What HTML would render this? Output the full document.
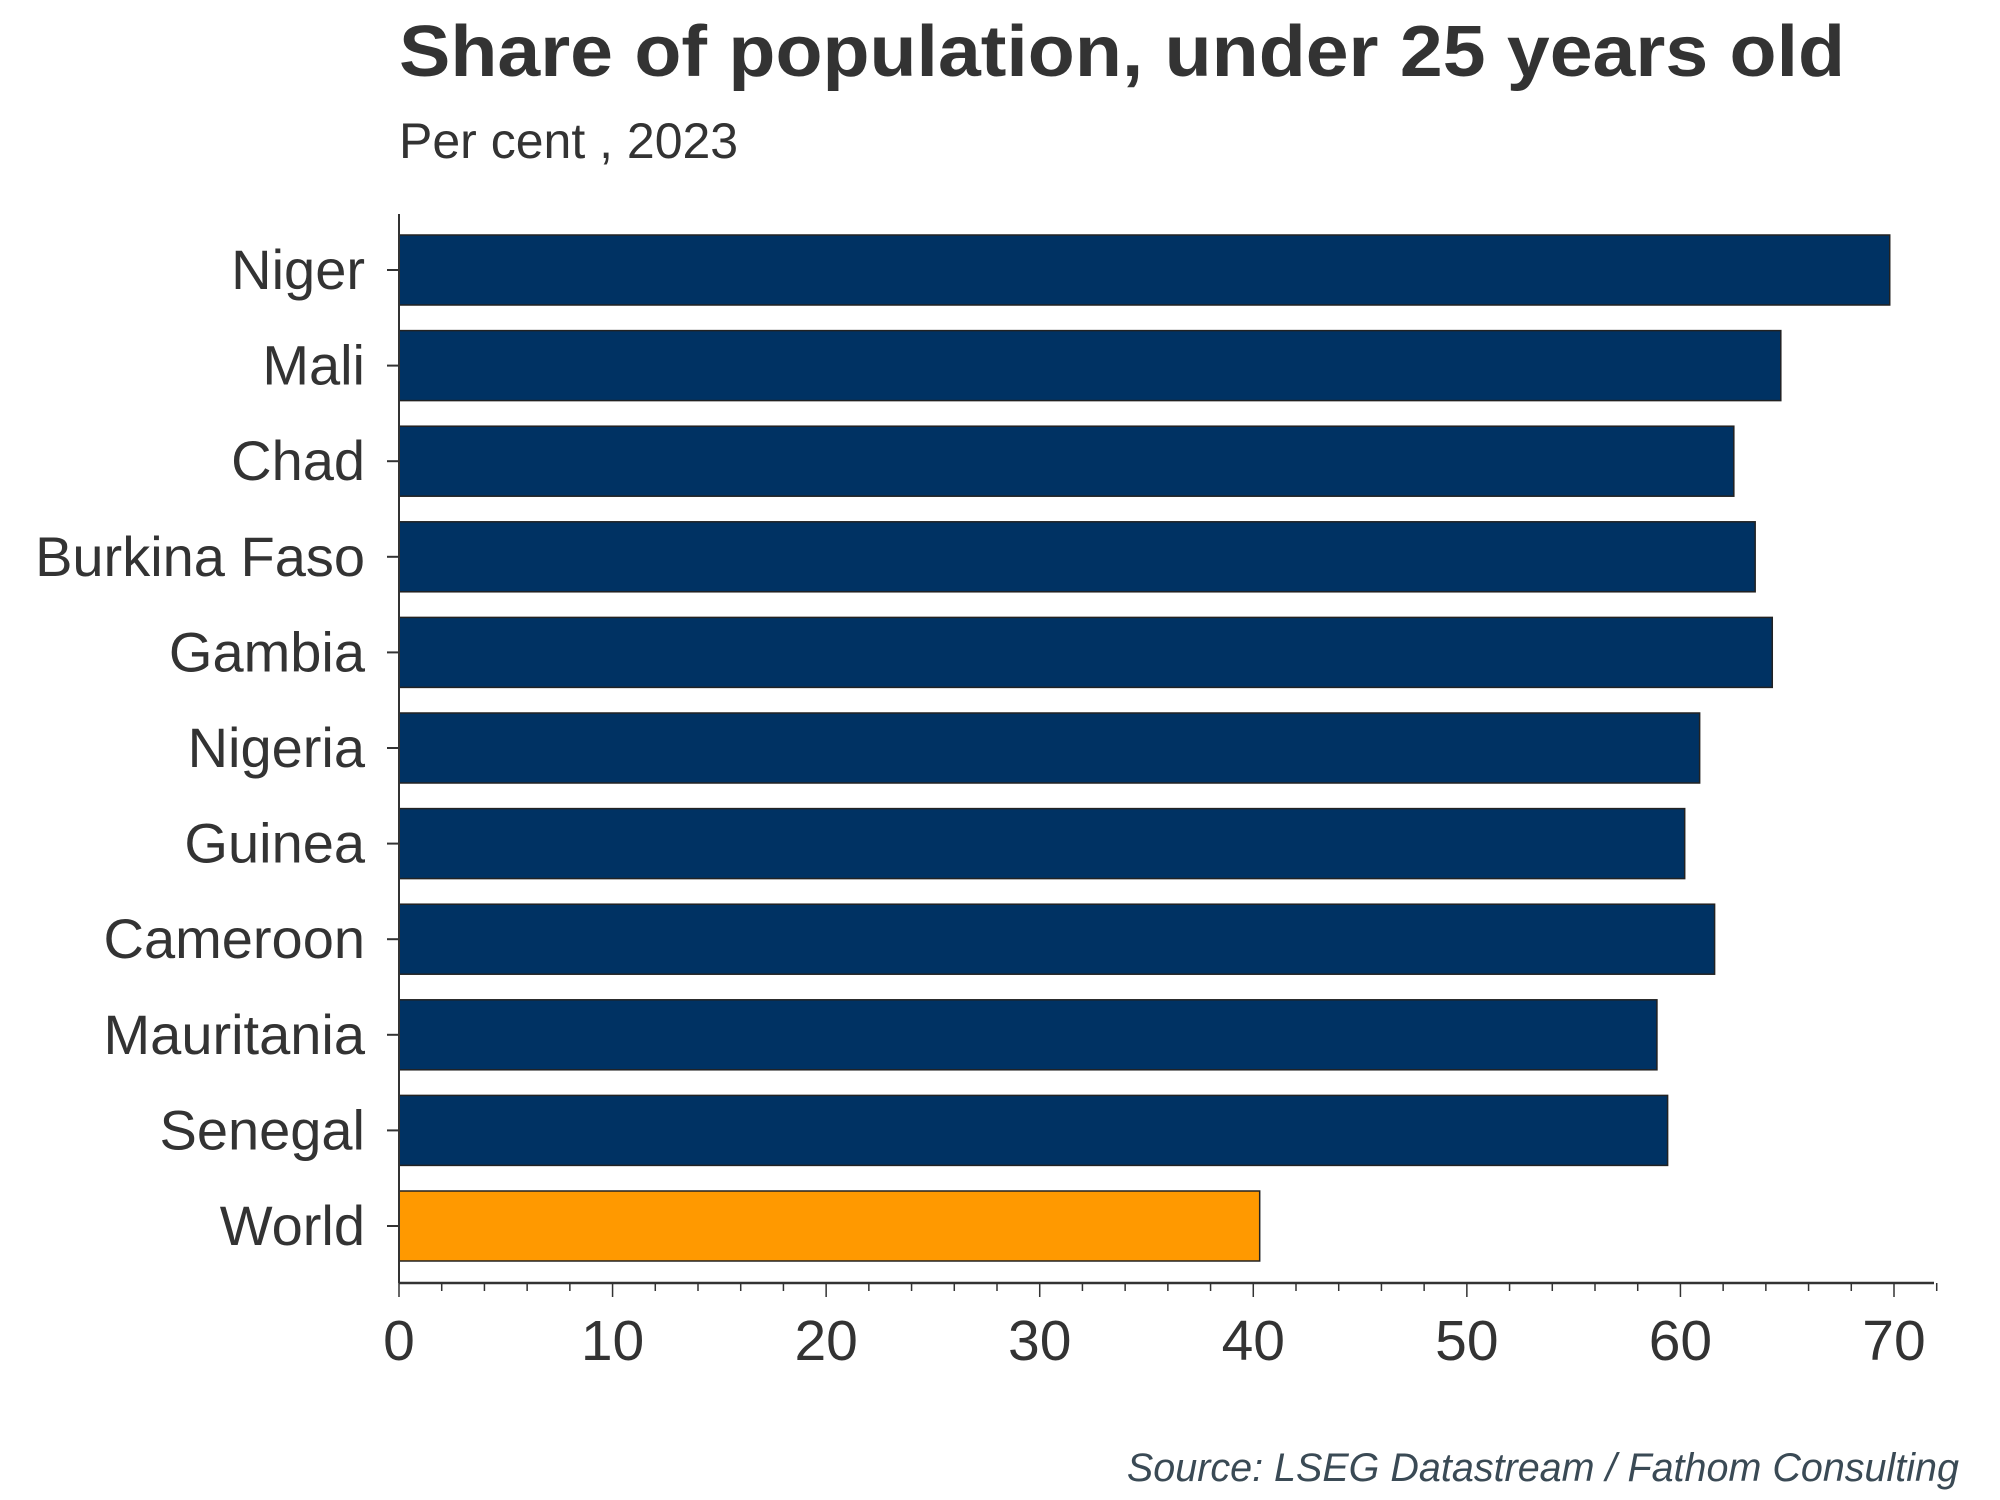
<!DOCTYPE html>
<html><head><meta charset="utf-8"><style>
html,body{margin:0;padding:0;background:#fff;}
svg{display:block;font-family:"Liberation Sans",Arial,sans-serif;}
</style></head><body>
<svg id="chart" width="2000" height="1500" viewBox="0 0 2000 1500">
<text x="399" y="76" font-size="72" font-weight="bold" fill="#333" textLength="1446" lengthAdjust="spacingAndGlyphs">Share of population, under 25 years old</text>
<text x="399" y="158" font-size="50" fill="#333">Per cent , 2023</text>
<g id="bars"></g>
<g id="axes"></g>
<text x="1959" y="1481" font-size="39.5" font-style="italic" fill="#3a4a55" text-anchor="end">Source: LSEG Datastream / Fathom Consulting</text>
</svg>
<script>
const categories = ["Niger","Mali","Chad","Burkina Faso","Gambia","Nigeria","Guinea","Cameroon","Mauritania","Senegal","World"];
const values = [69.8,64.7,62.5,63.5,64.3,60.9,60.2,61.6,58.9,59.4,40.3];
const xTicks = [0,10,20,30,40,50,60,70];
const NS="http://www.w3.org/2000/svg";
const x0=399, pxPerUnit=(1894-399)/70, top0=235, pitch=95.6, barH=70, axisY=1283;
const xs=v=>x0+v*pxPerUnit;
const ys=i=>top0+i*pitch;
const bars=document.getElementById('bars'), axes=document.getElementById('axes');
function mk(tag,attrs,parent){const e=document.createElementNS(NS,tag);for(const k in attrs)e.setAttribute(k,attrs[k]);parent.appendChild(e);return e;}
categories.forEach((c,i)=>{
  const r=mk('rect',{x:x0,y:ys(i),width:xs(values[i])-x0,height:barH,fill:c==="World"?"#ff9900":"#003263",stroke:"#222","stroke-width":1.5},bars);
  
  
  const t=mk('text',{x:365,y:ys(i)+barH/2+19,"font-size":56,fill:"#333","text-anchor":"end"},axes);
  t.textContent=c;
  
  
  mk('line',{x1:387,x2:399,y1:ys(i)+barH/2,y2:ys(i)+barH/2,stroke:"#333","stroke-width":2},axes);
});
const yl=mk('line',{x1:399,x2:399,y1:214,y2:axisY,stroke:"#333","stroke-width":2},axes);


const xl=mk('line',{x1:399,x2:1934,y1:axisY,y2:axisY,stroke:"#333","stroke-width":2.5},axes);


for(let v=0;v<=72;v+=2){
  const major=v%10===0;
  mk('line',{x1:xs(v),x2:xs(v),y1:axisY,y2:axisY+(major?14:8),stroke:"#333","stroke-width":1.5},axes);
}
xTicks.forEach(v=>{
  const t=mk('text',{x:xs(v),y:1360,"font-size":57,fill:"#333","text-anchor":"middle"},axes);
  t.textContent=v;
  
  
});
</script>
</body></html>
